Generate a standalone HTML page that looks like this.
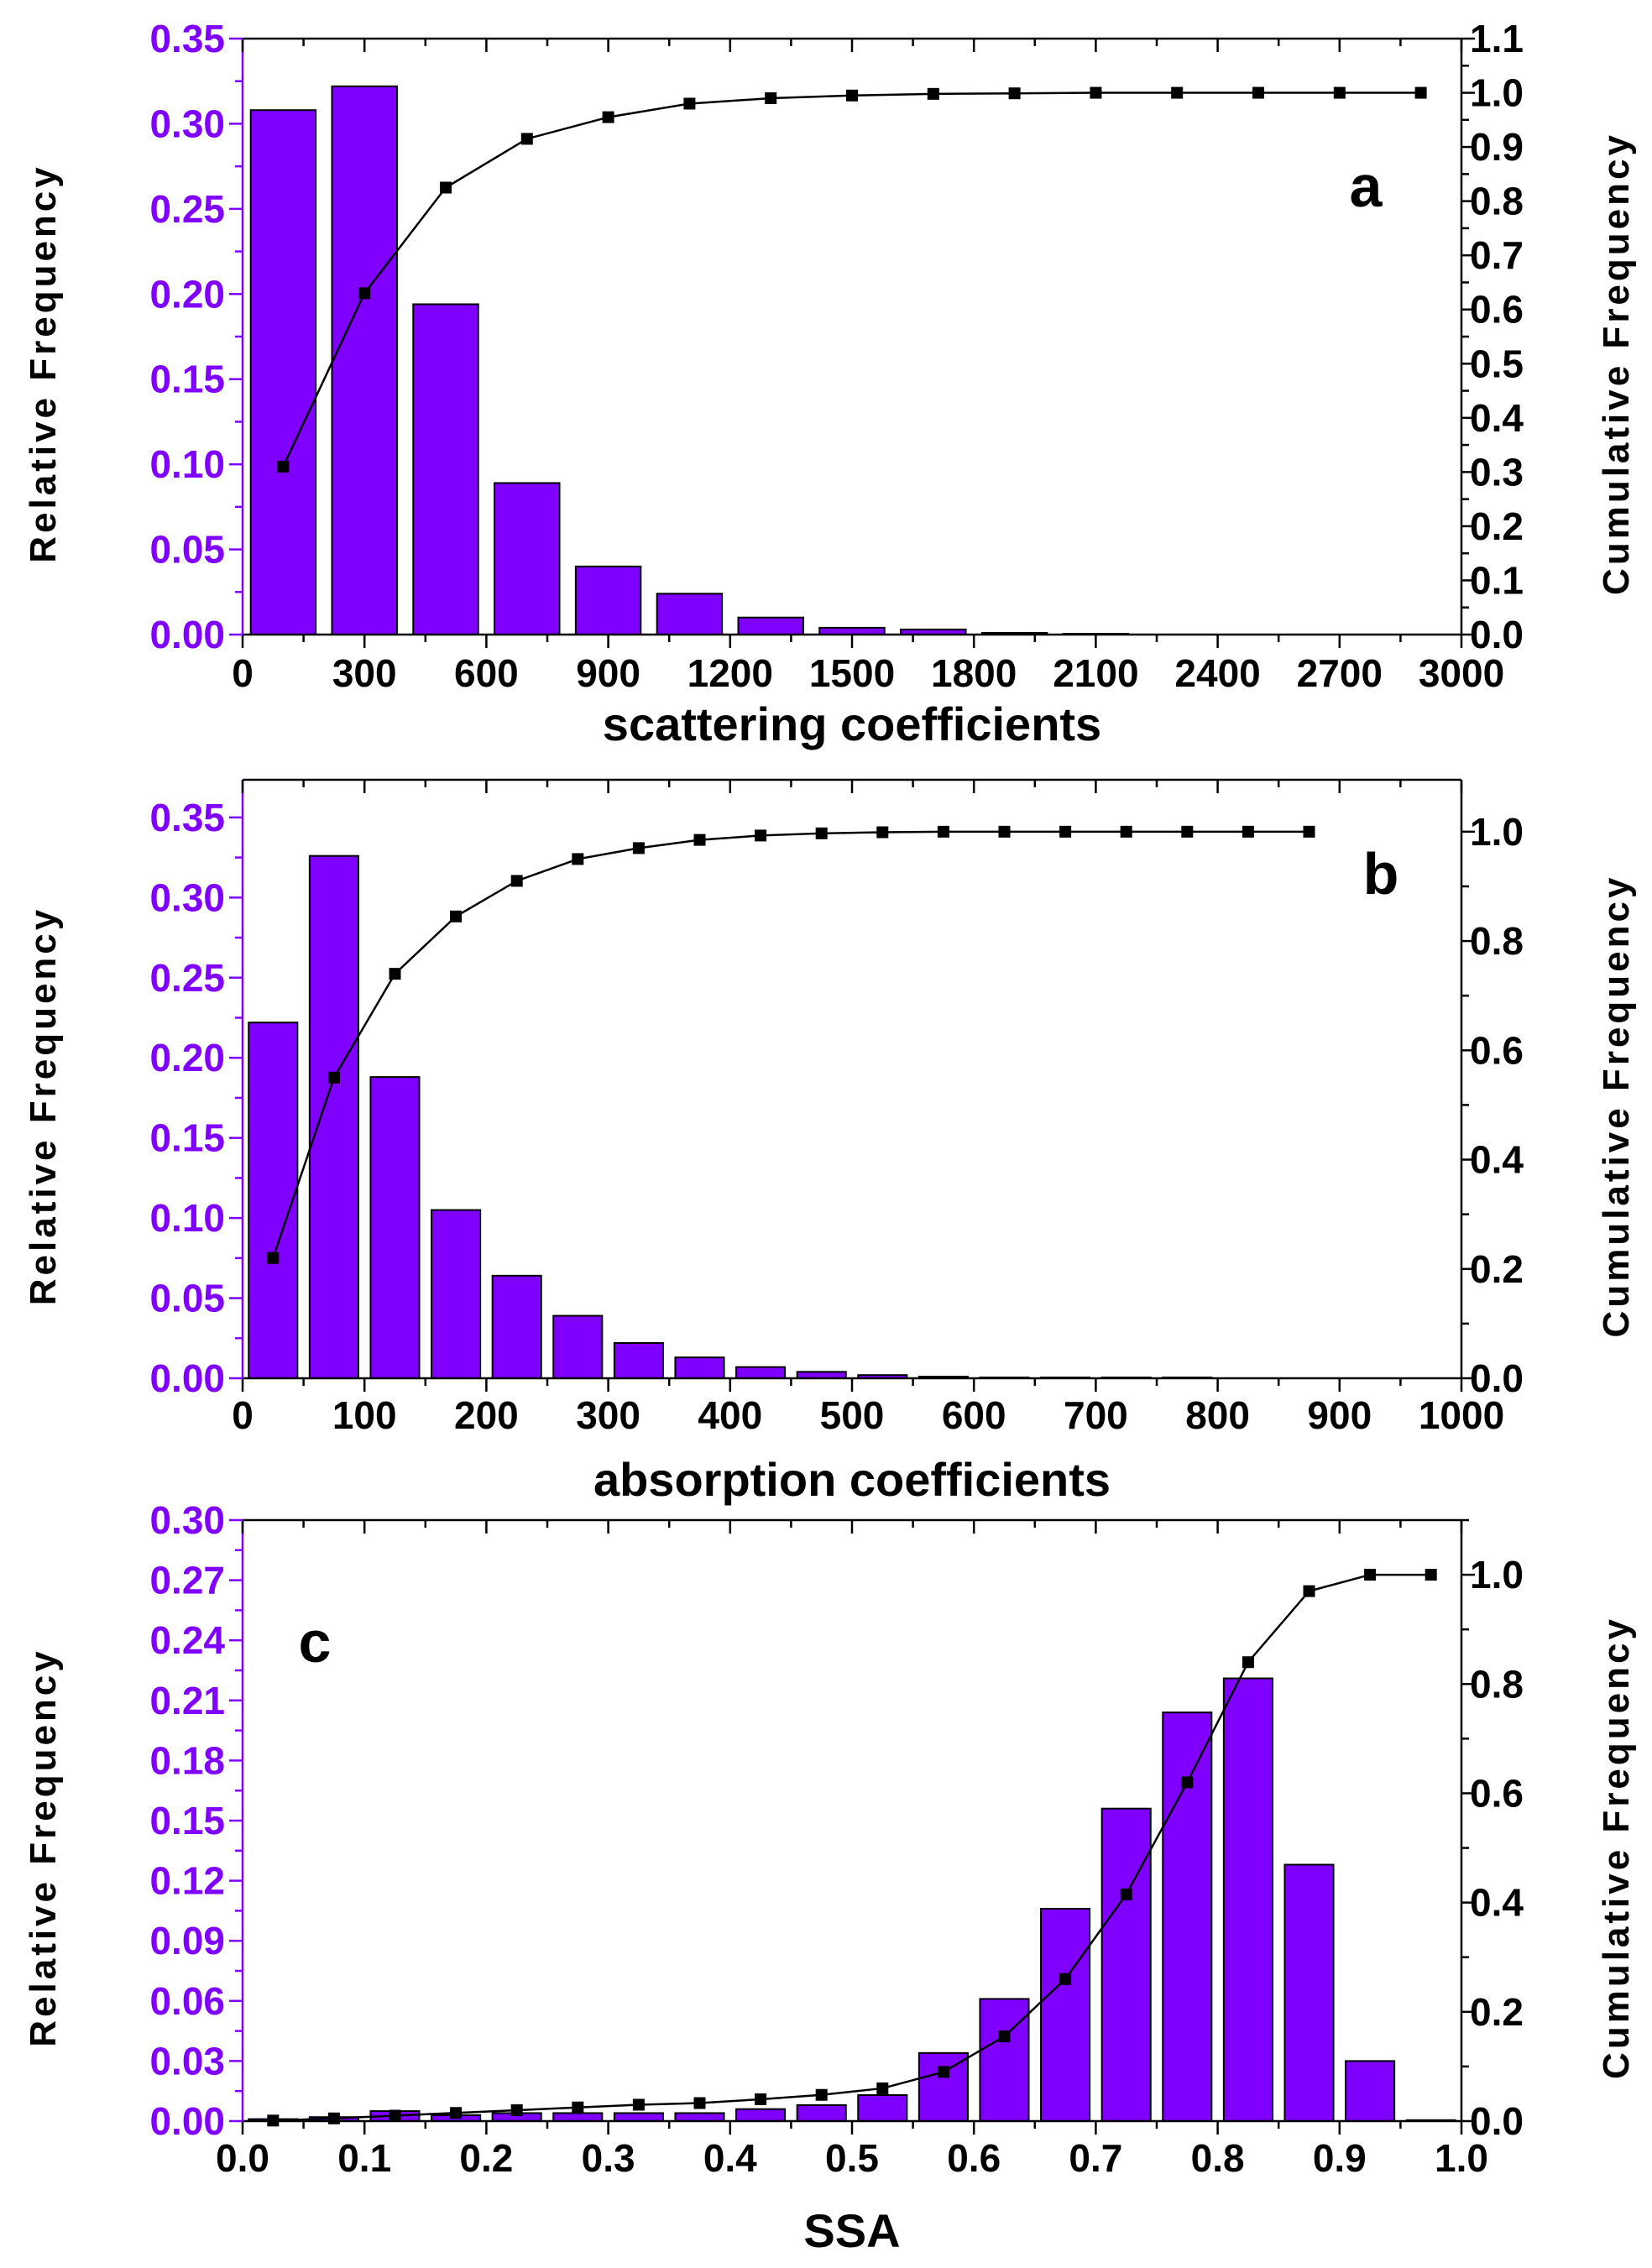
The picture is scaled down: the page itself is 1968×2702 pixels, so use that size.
<!DOCTYPE html>
<html><head><meta charset="utf-8"><style>
html,body{margin:0;padding:0;background:#fff;}
svg{display:block;}
text{font-family:"Liberation Sans",Arial,sans-serif;font-weight:bold;}
</style></head><body>
<svg id="chart" width="1968" height="2702" viewBox="0 0 1968 2702" xmlns="http://www.w3.org/2000/svg"></svg>
<script>
// Panel a data
const aCenters = [100,300,500,700,900,1100,1300,1500,1700,1900,2100];
const aRel = [0.308,0.322,0.194,0.089,0.040,0.024,0.010,0.004,0.003,0.001,0.0005];
const aCumX = [100,300,500,700,900,1100,1300,1500,1700,1900,2100,2300,2500,2700,2900];
const aCum = [0.31,0.63,0.825,0.915,0.955,0.98,0.99,0.995,0.998,0.999,1,1,1,1,1];
const aXTicks = [0,300,600,900,1200,1500,1800,2100,2400,2700,3000];
const aYTicks = ["0.00","0.05","0.10","0.15","0.20","0.25","0.30","0.35"];
const aY2Ticks = ["0.0","0.1","0.2","0.3","0.4","0.5","0.6","0.7","0.8","0.9","1.0","1.1"];
// Panel b data
const bCenters = [25,75,125,175,225,275,325,375,425,475,525,575,625,675,725,775];
const bRel = [0.222,0.326,0.188,0.105,0.064,0.039,0.022,0.013,0.007,0.004,0.002,0.001,0.0005,0.0005,0.0005,0.0005];
const bCumX = [25,75,125,175,225,275,325,375,425,475,525,575,625,675,725,775,825,875];
const bCum = [0.22,0.55,0.74,0.845,0.91,0.95,0.97,0.985,0.993,0.997,0.999,1,1,1,1,1,1,1];
const bXTicks = [0,100,200,300,400,500,600,700,800,900,1000];
const bYTicks = ["0.00","0.05","0.10","0.15","0.20","0.25","0.30","0.35"];
const bY2Ticks = ["0.0","0.2","0.4","0.6","0.8","1.0"];
// Panel c data
const cCenters = [0.025,0.075,0.125,0.175,0.225,0.275,0.325,0.375,0.425,0.475,0.525,0.575,0.625,0.675,0.725,0.775,0.825,0.875,0.925,0.975];
const cRel = [0.001,0.002,0.005,0.003,0.004,0.004,0.004,0.004,0.006,0.008,0.013,0.034,0.061,0.106,0.156,0.204,0.221,0.128,0.030,0.0005];
const cCum = [0.001,0.005,0.01,0.015,0.02,0.025,0.03,0.033,0.04,0.048,0.06,0.09,0.155,0.26,0.415,0.62,0.84,0.97,1.0,1.0];
const cXTicks = ["0.0","0.1","0.2","0.3","0.4","0.5","0.6","0.7","0.8","0.9","1.0"];
const cYTicks = ["0.00","0.03","0.06","0.09","0.12","0.15","0.18","0.21","0.24","0.27","0.30"];
const cY2Ticks = ["0.0","0.2","0.4","0.6","0.8","1.0"];

const NS="http://www.w3.org/2000/svg";
const svg=document.getElementById('chart');
const PURPLE="#7F00FF";
function mk(tag,attrs,parent){const e=document.createElementNS(NS,tag);for(const k in attrs)e.setAttribute(k,attrs[k]);(parent||svg).appendChild(e);return e;}

function panel(o){
  const g=mk('g',{});
  
  
  const L=289,R=1741,T=o.top,B=o.bottom;
  const xs=v=>L+(v-o.xmin)/(o.xmax-o.xmin)*(R-L);
  const ys=v=>B-v/o.ymax*(B-T);
  const y2s=v=>B-v/o.y2max*(B-T);
  o.centers.forEach((c,i)=>{
    const x0=xs(c-o.bw*0.4),x1=xs(c+o.bw*0.4),y=ys(o.rel[i]);
    const r=mk('rect',{x:x0,y:y,width:x1-x0,height:Math.max(B-y,0.5),fill:PURPLE,stroke:'#000','stroke-width':2},g);
    
    
  });
  const pts=o.cumX.map((x,i)=>xs(x)+','+y2s(o.cum[i])).join(' ');
  const pl=mk('polyline',{points:pts,fill:'none',stroke:'#000','stroke-width':2.5},g);
  
  
  o.cumX.forEach((x,i)=>{
    const m=mk('rect',{x:xs(x)-7,y:y2s(o.cum[i])-7,width:14,height:14,fill:'#000'},g);
    
    
  });
  mk('line',{x1:L,y1:T,x2:R,y2:T,stroke:'#000','stroke-width':2.5},g);
  mk('line',{x1:L,y1:B,x2:R,y2:B,stroke:'#000','stroke-width':2.5},g);
  mk('line',{x1:R,y1:T,x2:R,y2:B,stroke:'#000','stroke-width':2.5},g);
  mk('line',{x1:L,y1:T,x2:L,y2:B,stroke:PURPLE,'stroke-width':2.5},g);
  const n=o.xticks.length;
  for(let i=0;i<n;i++){
    const v=o.xmin+(o.xmax-o.xmin)*i/(n-1),x=xs(v);
    mk('line',{x1:x,y1:B,x2:x,y2:B+16,stroke:'#000','stroke-width':2.5},g);
    mk('line',{x1:x,y1:T,x2:x,y2:T+16,stroke:'#000','stroke-width':2.5},g);
    const t=mk('text',{x:x,y:o.xlabY,'text-anchor':'middle','font-size':46,fill:'#000'},g);
    t.textContent=o.xticks[i];
    
    
    if(i<n-1){const xm=xs(v+(o.xmax-o.xmin)/(n-1)/2);
      mk('line',{x1:xm,y1:B,x2:xm,y2:B+9,stroke:'#000','stroke-width':2.5},g);
      mk('line',{x1:xm,y1:T,x2:xm,y2:T+9,stroke:'#000','stroke-width':2.5},g);}
  }
  o.yticks.forEach((lab,i)=>{
    const v=o.ystep*i,y=ys(v);
    mk('line',{x1:L-16,y1:y,x2:L,y2:y,stroke:PURPLE,'stroke-width':2.5},g);
    const ym=ys(v+o.ystep/2);
    if(ym>=T-1) mk('line',{x1:L-9,y1:ym,x2:L,y2:ym,stroke:PURPLE,'stroke-width':2.5},g);
    const t=mk('text',{x:268,y:y+16,'text-anchor':'end','font-size':46,fill:PURPLE},g);
    t.textContent=lab;
    
    
  });
  o.y2ticks.forEach((lab,i)=>{
    const v=o.y2step*i,y=y2s(v);
    mk('line',{x1:R,y1:y,x2:R+16,y2:y,stroke:'#000','stroke-width':2.5},g);
    const ym=y2s(v+o.y2step/2);
    if(ym>=T-1) mk('line',{x1:R,y1:ym,x2:R+9,y2:ym,stroke:'#000','stroke-width':2.5},g);
    const t=mk('text',{x:1751,y:y+16,'text-anchor':'start','font-size':46,fill:'#000'},g);
    t.textContent=lab;
    
    
  });
  const mid=(T+B)/2+32;
  let t=mk('text',{x:0,y:0,'text-anchor':'middle','font-size':44,'letter-spacing':4,fill:'#000',transform:`translate(66,${mid}) rotate(-90)`},g);
  t.textContent='Relative Frequency';
  
  
  t=mk('text',{x:0,y:0,'text-anchor':'middle','font-size':44,'letter-spacing':4,fill:'#000',transform:`translate(1940,${mid}) rotate(-90)`},g);
  t.textContent='Cumulative Frequency';
  
  
  t=mk('text',{x:(L+R)/2,y:o.titleY,'text-anchor':'middle','font-size':56,fill:'#000'},g);
  t.textContent=o.xtitle;
  
  
  t=mk('text',{x:o.letterX,y:o.letterY,'text-anchor':'middle','font-size':70,fill:'#000'},g);
  t.textContent=o.id;
  
  
}

panel({id:'a',top:46,bottom:756,xmin:0,xmax:3000,bw:200,ymax:0.35,y2max:1.1,ystep:0.05,y2step:0.1,
  centers:aCenters,rel:aRel,cumX:aCumX,cum:aCum,xticks:aXTicks,yticks:aYTicks,y2ticks:aY2Ticks,
  xlabY:818,titleY:882,xtitle:'scattering coefficients',letterX:1627,letterY:246});
panel({id:'b',top:929,bottom:1642,xmin:0,xmax:1000,bw:50,ymax:0.3735,y2max:1.095,ystep:0.05,y2step:0.2,
  centers:bCenters,rel:bRel,cumX:bCumX,cum:bCum,xticks:bXTicks,yticks:bYTicks,y2ticks:bY2Ticks,
  xlabY:1702,titleY:1782,xtitle:'absorption coefficients',letterX:1645,letterY:1065});
panel({id:'c',top:1811,bottom:2527,xmin:0,xmax:1,bw:0.05,ymax:0.30,y2max:1.1,ystep:0.03,y2step:0.2,
  centers:cCenters,rel:cRel,cumX:cCenters,cum:cCum,xticks:cXTicks,yticks:cYTicks,y2ticks:cY2Ticks,
  xlabY:2587,titleY:2677,xtitle:'SSA',letterX:375,letterY:1980});
</script>
</body></html>
